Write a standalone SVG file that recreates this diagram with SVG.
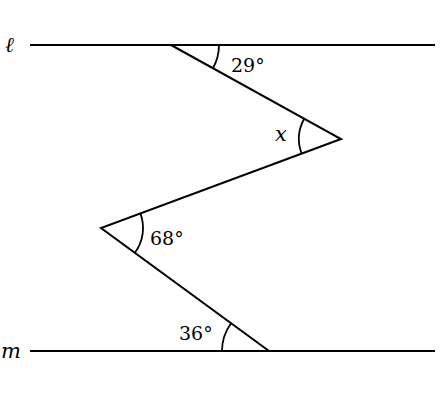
<svg xmlns="http://www.w3.org/2000/svg" width="440" height="403" viewBox="0 0 440 403">
<style>
.ln{stroke:#000;stroke-width:2;fill:none;stroke-linecap:butt;stroke-linejoin:miter}
.arc{stroke:#000;stroke-width:1.8;fill:none}
.t{font-family:'DejaVu Serif','Liberation Serif',serif;font-size:19px;fill:#000}
.i{font-style:italic;font-size:21px}
</style>
<rect width="440" height="403" fill="#fff"/>
<g id="lines">
<line class="ln" x1="30" y1="45" x2="435" y2="45"/>
<line class="ln" x1="30" y1="351" x2="435" y2="351"/>
<polyline class="ln" points="171,45 341,139 101,228 269,351"/>
</g>
<g id="arcs">
<path class="arc" d="M219,45 A48,48 0 0 1 213,68.2"/>
<path class="arc" d="M304.2,118.7 A42,42 0 0 0 301.6,153.6"/>
<path class="arc" d="M140.4,213.4 A42,42 0 0 1 134.9,252.8"/>
<path class="arc" d="M231.1,323.2 A47,47 0 0 0 222,351"/>
</g>
<g id="labels">
<text class="t i" x="5" y="52">ℓ</text>
<text class="t i" x="1" y="358">m</text>
<text class="t" x="231" y="72">29°</text>
<text class="t i" x="275" y="141">x</text>
<text class="t" x="150" y="245">68°</text>
<text class="t" x="179" y="340">36°</text>
</g>
</svg>
